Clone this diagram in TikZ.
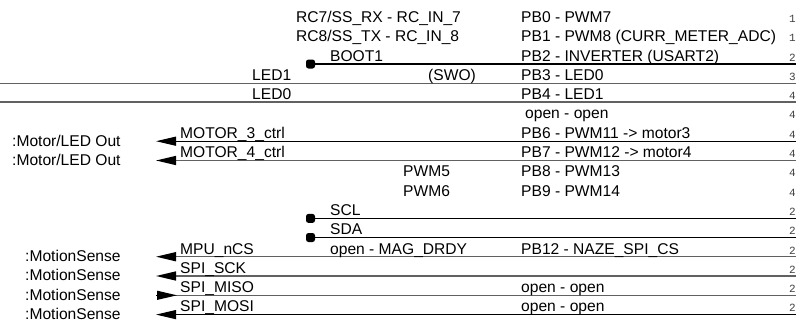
\documentclass[tikz,border=0pt]{standalone}
\usepackage{fontspec}
\setmainfont{Liberation Sans}
\setmonofont{Liberation Mono}
\usetikzlibrary{arrows.meta}
\begin{document}
\begin{tikzpicture}[x=1pt,y=-1pt,
  lbl/.style={anchor=base west, inner sep=0pt, font=\fontsize{15.6}{18}\selectfont},
  pin/.style={anchor=base west, inner sep=0pt, font=\fontsize{11}{12}\selectfont\ttfamily, text=black!75},
  wire/.style={line width=1.1pt, draw=black},
  wireg/.style={line width=1.5pt, draw=black!62},
  dotj/.style={rectangle, fill=black, draw=none, rounded corners=2.5pt, minimum size=9pt, inner sep=0pt},
  outarr/.style={{Triangle[length=20pt,width=9pt,black]}-},
  inarr/.style={-{Triangle[length=20pt,width=9pt,black]}},
]
\useasboundingbox (0,0) rectangle (796,327);

% ---- wire coordinates ----
\coordinate (L3e) at (796,64);
\coordinate (L4s) at (0,83.5);   \coordinate (L4e) at (796,83.5);
\coordinate (L5s) at (0,102);    \coordinate (L5e) at (796,102);
\coordinate (L7s) at (156,141.2); \coordinate (L7e) at (796,141.2);
\coordinate (L8s) at (156,160.5); \coordinate (L8e) at (796,160.5);
\coordinate (L11e) at (796,218.4);
\coordinate (L12e) at (796,237.5);
\coordinate (L13s) at (156,256.7); \coordinate (L13e) at (796,256.7);
\coordinate (L14s) at (156,276);   \coordinate (L14e) at (796,276);
\coordinate (L15s) at (156,295.3); \coordinate (L15e) at (796,295.3);
\coordinate (L15t) at (177,295.3);
\coordinate (L16s) at (156,314.6); \coordinate (L16e) at (796,314.6);

% ---- junction dots ----
\node[dotj] (d3)  at (310.5,64) {};
\node[dotj] (d11) at (310.5,218.4) {};
\node[dotj] (d12) at (310.5,237.5) {};

% ---- wires ----
\draw[wire]  (d3.center) -- (L3e);
\draw[wireg] (L4s) -- (L4e);
\draw[wireg] (L5s) -- (L5e);
\draw[wire, outarr]  (L7s) -- (L7e);
\draw[wireg, outarr] (L8s) -- (L8e);
\draw[wire]  (d11.center) -- (L11e);
\draw[wire]  (d12.center) -- (L12e);
\draw[wireg, outarr] (L13s) -- (L13e);
\draw[wireg, outarr] (L14s) -- (L14e);
\draw[wireg] (L15s) -- (L15e);
\draw[wire, inarr] (L15s) -- (L15t);
\draw[wire, outarr] (L16s) -- (L16e);

% ---- left-side port labels ----
\node[lbl] (o7)  at (12,146.4) {:Motor/LED Out};
\node[lbl] (o8)  at (12,165.7) {:Motor/LED Out};
\node[lbl] (o13) at (25,261.5) {:MotionSense};
\node[lbl] (o14) at (25,280.8) {:MotionSense};
\node[lbl] (o15) at (25,300.1) {:MotionSense};
\node[lbl] (o16) at (25,319.4) {:MotionSense};

% ---- net labels ----
\node[lbl] (t1a) at (296,22.4) {RC7/SS\_RX - RC\_IN\_7};
\node[lbl] (t2a) at (296,41.7) {RC8/SS\_TX - RC\_IN\_8};
\node[lbl] (t3a) at (330,61) {BOOT1};
\node[lbl] (t4a) at (252,80.3) {LED1};
\node[lbl] (t4b) at (428,80.3) {(SWO)};
\node[lbl] (t5a) at (252,99.4) {LED0};
\node[lbl] (t7a) at (180,138.2) {MOTOR\_3\_ctrl};
\node[lbl] (t8a) at (180,157.5) {MOTOR\_4\_ctrl};
\node[lbl] (t9a) at (403,176.8) {PWM5};
\node[lbl] (t10a) at (403,196.1) {PWM6};
\node[lbl] (t11a) at (330,215.4) {SCL};
\node[lbl] (t12a) at (330,234.7) {SDA};
\node[lbl] (t13a) at (330,254) {open - MAG\_DRDY};
\node[lbl] (t13b) at (180,254) {MPU\_nCS};
\node[lbl] (t14a) at (180,273.3) {SPI\_SCK};
\node[lbl] (t15a) at (180,292.6) {SPI\_MISO};
\node[lbl] (t16a) at (180,311.9) {SPI\_MOSI};

% ---- pin function column ----
\node[lbl] (p1)  at (521,22.4)  {PB0 - PWM7};
\node[lbl] (p2)  at (521,41.7)  {PB1 - PWM8 (CURR\_METER\_ADC)};
\node[lbl] (p3)  at (521,61)    {PB2 - INVERTER (USART2)};
\node[lbl] (p4)  at (521,80.3)  {PB3 - LED0};
\node[lbl] (p5)  at (521,99.4)  {PB4 - LED1};
\node[lbl] (p6)  at (525,118.9) {open - open};
\node[lbl] (p7)  at (521,138.2) {PB6 - PWM11 -> motor3};
\node[lbl] (p8)  at (521,157.5) {PB7 - PWM12 -> motor4};
\node[lbl] (p9)  at (521,176.8) {PB8 - PWM13};
\node[lbl] (p10) at (521,196.1) {PB9 - PWM14};
\node[lbl] (p13) at (521,254)   {PB12 - NAZE\_SPI\_CS};
\node[lbl] (p15) at (521,292.6) {open - open};
\node[lbl] (p16) at (521,311.9) {open - open};

% ---- sheet numbers at right edge ----
\node[pin] (n1)  at (789,22.4)  {1};
\node[pin] (n2)  at (789,41.7)  {1};
\node[pin] (n3)  at (789,61)    {2};
\node[pin] (n4)  at (789,80.3)  {3};
\node[pin] (n5)  at (789,99.4)  {4};
\node[pin] (n6)  at (789,118.9) {4};
\node[pin] (n7)  at (789,138.2) {4};
\node[pin] (n8)  at (789,157.5) {4};
\node[pin] (n9)  at (789,176.8) {4};
\node[pin] (n10) at (789,196.1) {4};
\node[pin] (n11) at (789,215.4) {2};
\node[pin] (n12) at (789,234.7) {2};
\node[pin] (n13) at (789,254)   {2};
\node[pin] (n14) at (789,273.3) {2};
\node[pin] (n15) at (789,292.6) {2};
\node[pin] (n16) at (789,311.9) {2};
\end{tikzpicture}
\end{document}
